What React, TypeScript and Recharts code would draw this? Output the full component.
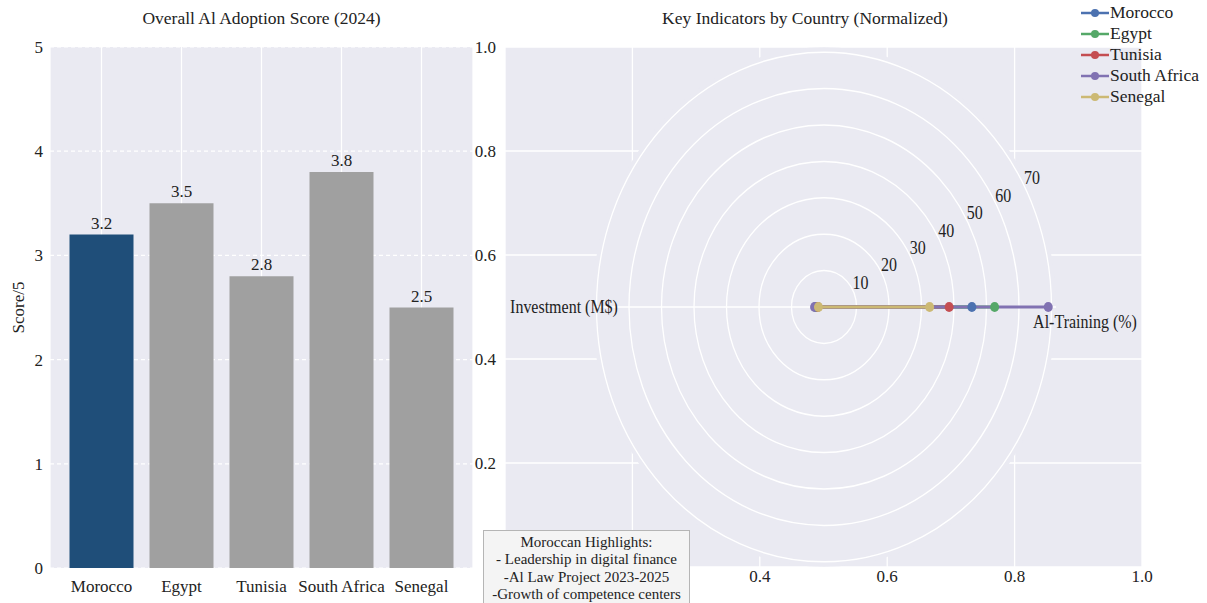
import {
  BarChart, Bar, Cell, LabelList, XAxis, YAxis, CartesianGrid,
  ScatterChart, Scatter, RadarChart, Radar, PolarGrid, PolarAngleAxis,
  PolarRadiusAxis, PieChart, Pie,
} from 'recharts';

// Left panel: overall score per country
const countries = ['Morocco', 'Egypt', 'Tunisia', 'South Africa', 'Senegal'];
const adoptionScores = [3.2, 3.5, 2.8, 3.8, 2.5];
const scoreTicks = [0, 1, 2, 3, 4, 5];

// Right panel: radar values
const radarAxes = ['Al-Training (%)', 'Investment (M$)'];
const trainingPct = [45.5, 52.5, 38.5, 69, 32.5];
const investmentMusd = [2.3, 2.6, 1.9, 2.9, 1.7];
const ringTicks = [10, 20, 30, 40, 50, 60, 70];
const unitTicks = [0, 0.2, 0.4, 0.6, 0.8, 1.0];
// tick labels that sit under the highlights box in the picture
const hiddenXTicks = [0, 0.2];
const hiddenYTicks = [0];

const highlights = [
  'Moroccan Highlights:',
  '- Leadership in digital finance',
  '-Al Law Project 2023-2025',
  '-Growth of competence centers',
];

const seriesColors = ['#4c72b0', '#55a868', '#c44e52', '#8172b2', '#ccb974'];
const MOROCCO_BLUE = '#1f4e79';
const OTHER_GRAY = '#a0a0a0';
const PANEL_BG = '#eaeaf2';
const INK = '#222';
const FONT = '"Liberation Serif", "Times New Roman", serif';

const barData = countries.map((country, i) => ({ country, score: adoptionScores[i] }));

const radarData = radarAxes.map((axis, k) => {
  const row: Record<string, string | number> = { axis };
  countries.forEach((c, i) => {
    row[c] = k === 0 ? trainingPct[i] : investmentMusd[i];
  });
  return row;
});

// helper rows so the 0..1 frame gets its axes; nothing is drawn for them
const frameData = unitTicks.map((t) => ({ x: t, y: t }));
const discData = [{ name: 'polar background', value: 1 }];

// polar center in page coordinates, and the vertical stretch of the picture
const CX = 823.5;
const CY = 307;
const STRETCH = 1.12;
const POLAR_R = 232;
const RING_MAX = 70 * POLAR_R / 227.5;
const HALF_W = 380;
const HALF_H = 300;

function AngleTick(props: any) {
  const { x, y, payload, index } = props;
  const right = index === 0;
  return (
    <text
      x={x + (right ? 21 : -20)}
      y={y + (right ? 14 : 0)}
      textAnchor="middle"
      dominantBaseline="central"
      fontSize={16}
      fill={INK}
      fontFamily={FONT}
    >
      {payload.value}
    </text>
  );
}

function RingTick(props: any) {
  const { x, y, payload } = props;
  return (
    <text
      x={x + 8}
      y={y - 6}
      textAnchor="middle"
      dominantBaseline="central"
      fontSize={16}
      fill={INK}
      fontFamily={FONT}
    >
      {payload.value}
    </text>
  );
}

const noMark = () => <g />;
const fmtX = (v: number) => (hiddenXTicks.includes(v) ? '' : v.toFixed(1));
const fmtY = (v: number) => (hiddenYTicks.includes(v) ? '' : v.toFixed(1));

export default function App() {
  return (
    <div
      style={{
        position: 'absolute', left: 0, top: 0, width: 1207, height: 603,
        background: '#fff', overflow: 'hidden', fontFamily: FONT, color: INK,
      }}
    >
      {/* left title */}
      <div style={{ position: 'absolute', left: 50, width: 423, top: 8, textAlign: 'center', fontSize: 17.5 }}>
        Overall Al Adoption Score (2024)
      </div>

      <div style={{ position: 'absolute', left: 0, top: 0 }}>
        <BarChart
          width={480}
          height={603}
          data={barData}
          margin={{ top: 47, right: 7, bottom: 5, left: 10 }}
          barCategoryGap={8}
        >
          <CartesianGrid fill={PANEL_BG} fillOpacity={1} stroke="#fff" strokeWidth={1.2} horizontal={false} />
          <CartesianGrid stroke="#fff" strokeWidth={1.2} vertical={false} strokeDasharray="4 3" />
          <XAxis
            dataKey="country"
            padding={{ left: 11.5, right: 11.5 }}
            axisLine={false}
            tickLine={false}
            tickSize={0}
            tickMargin={12}
            height={30}
            interval={0}
            tick={{ fontSize: 17, fill: INK, fontFamily: FONT }}
          />
          <YAxis
            domain={[0, 5]}
            ticks={scoreTicks}
            width={40}
            axisLine={false}
            tickLine={false}
            tickSize={0}
            tickMargin={7}
            tick={{ fontSize: 17, fill: INK, fontFamily: FONT }}
            label={{
              value: 'Score/5', angle: -90, position: 'insideLeft', offset: 8,
              style: { textAnchor: 'middle', fontSize: 17, fill: INK, fontFamily: FONT },
            }}
          />
          <Bar dataKey="score" isAnimationActive={false}>
            {barData.map((d) => (
              <Cell key={d.country} fill={d.country === 'Morocco' ? MOROCCO_BLUE : OTHER_GRAY} />
            ))}
            <LabelList
              dataKey="score"
              position="top"
              offset={6}
              formatter={(v: any) => Number(v).toFixed(1)}
              style={{ fontSize: 17, fill: INK, fontFamily: FONT }}
            />
          </Bar>
        </BarChart>
      </div>

      {/* right title */}
      <div style={{ position: 'absolute', left: 605, width: 400, top: 8, textAlign: 'center', fontSize: 17.5 }}>
        Key Indicators by Country (Normalized)
      </div>

      {/* right cartesian frame (0..1 axes) */}
      <div style={{ position: 'absolute', left: 460, top: 0 }}>
        <ScatterChart width={747} height={603} margin={{ top: 47, right: 65, bottom: 6, left: 5 }}>
          <CartesianGrid fill={PANEL_BG} fillOpacity={1} stroke="#fff" strokeWidth={1.3} />
          <XAxis
            type="number"
            dataKey="x"
            domain={[0, 1]}
            ticks={unitTicks}
            tickFormatter={fmtX}
            axisLine={false}
            tickLine={false}
            tickSize={0}
            tickMargin={3}
            height={30}
            tick={{ fontSize: 17, fill: INK, fontFamily: FONT }}
          />
          <YAxis
            type="number"
            dataKey="y"
            domain={[0, 1]}
            ticks={unitTicks}
            tickFormatter={fmtY}
            width={40}
            axisLine={false}
            tickLine={false}
            tickSize={0}
            tickMargin={9}
            tick={{ fontSize: 17, fill: INK, fontFamily: FONT }}
          />
          <Scatter data={frameData} shape={noMark} isAnimationActive={false} />
        </ScatterChart>
      </div>

      {/* polar layer, stretched vertically like the picture */}
      <div
        style={{
          position: 'absolute', left: CX - HALF_W, top: CY - HALF_H, width: HALF_W * 2, height: HALF_H * 2,
          transform: `scaleY(${STRETCH})`, transformOrigin: `${HALF_W}px ${HALF_H}px`,
        }}
      >
        <div style={{ position: 'absolute', left: 0, top: 0 }}>
          <PieChart width={HALF_W * 2} height={HALF_H * 2} margin={{ top: 0, right: 0, bottom: 0, left: 0 }}>
            <Pie
              data={discData}
              dataKey="value"
              cx={HALF_W}
              cy={HALF_H}
              innerRadius={0}
              outerRadius={POLAR_R}
              startAngle={0}
              endAngle={360}
              fill={PANEL_BG}
              stroke="none"
              isAnimationActive={false}
            />
          </PieChart>
        </div>
        <div style={{ position: 'absolute', left: 0, top: 0 }}>
          <RadarChart
            width={HALF_W * 2}
            height={HALF_H * 2}
            data={radarData}
            cx={HALF_W}
            cy={HALF_H}
            outerRadius={POLAR_R}
            startAngle={0}
            endAngle={-360}
            margin={{ top: 0, right: 0, bottom: 0, left: 0 }}
          >
            <PolarGrid gridType="circle" stroke="#fff" strokeWidth={1.3} />
            <PolarAngleAxis dataKey="axis" tick={<AngleTick />} axisLine={false} tickLine={false} />
            <PolarRadiusAxis
              angle={28.5}
              domain={[0, RING_MAX]}
              ticks={ringTicks as any}
              axisLine={false}
              tickLine={false}
              tick={<RingTick />}
            />
            {countries.map((c, i) => (
              <Radar
                key={c}
                name={c}
                dataKey={c}
                stroke={seriesColors[i]}
                strokeWidth={2.5}
                fill={seriesColors[i]}
                fillOpacity={0}
                dot={{ r: 4.5, fill: seriesColors[i], stroke: seriesColors[i], strokeWidth: 0, fillOpacity: 1 }}
                isAnimationActive={false}
              />
            ))}
          </RadarChart>
        </div>
      </div>

      {/* legend */}
      <div style={{ position: 'absolute', left: 1080, top: 2 }}>
        {countries.map((c, i) => (
          <div key={c} style={{ display: 'flex', alignItems: 'center', height: 21, fontSize: 17.5 }}>
            <svg width={30} height={12} style={{ marginRight: 0 }}>
              <line x1={1} y1={6} x2={29} y2={6} stroke={seriesColors[i]} strokeWidth={2.5} />
              <circle cx={15} cy={6} r={4} fill={seriesColors[i]} />
            </svg>
            <span>{c}</span>
          </div>
        ))}
      </div>

      {/* highlights box */}
      <div
        style={{
          position: 'absolute', left: 483, top: 530, width: 205, height: 80,
          background: '#f4f4f4', border: '1px solid #b5b5b5',
          textAlign: 'center', fontSize: 15, lineHeight: '17.3px', paddingTop: 3,
        }}
      >
        {highlights.map((t) => (
          <div key={t}>{t}</div>
        ))}
      </div>
    </div>
  );
}
